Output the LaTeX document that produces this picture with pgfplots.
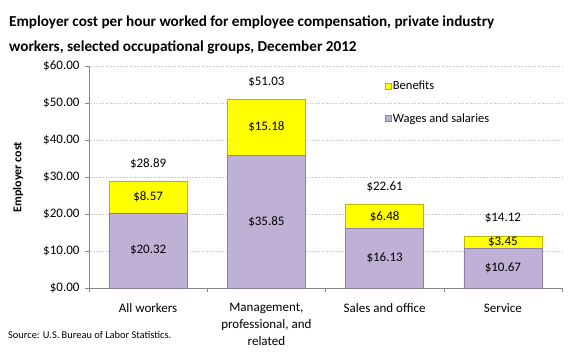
\documentclass[border=0pt]{standalone}
\usepackage{pgfplots}
\pgfplotsset{compat=1.18}
\usepackage{fontspec}
\setmainfont{Carlito}
\definecolor{wage}{HTML}{BFB1D5}
\definecolor{wageedge}{HTML}{8E80A4}
\definecolor{ben}{HTML}{FFFF00}
\definecolor{benedge}{HTML}{B8B800}
\definecolor{axgray}{HTML}{868686}
\definecolor{gridgray}{HTML}{BEBEBE}
\begin{document}
\begin{tikzpicture}[x=1pt,y=1pt]
\useasboundingbox (0,0) rectangle (580,360);
\node[anchor=north west, align=left, font=\fontsize{15.2}{25}\selectfont\bfseries, inner sep=0pt] at (9,344)
 {Employer cost per hour worked for employee compensation, private industry\\workers, selected occupational groups, December 2012};
\node[anchor=west, font=\fontsize{10.4}{12}\selectfont, inner sep=0pt] at (8,25) {Source: U.S. Bureau of Labor Statistics.};
\begin{axis}[
  at={(89pt,72pt)}, anchor=south west,
  width=473pt, height=222pt, scale only axis,
  ybar stacked, bar width=78pt,
  xmin=-0.5, xmax=3.5, ymin=0, ymax=60,
  axis lines=left, axis line style={draw=axgray,-},
  ytick={0,10,20,30,40,50,60},
  yticklabels={\$0.00,\$10.00,\$20.00,\$30.00,\$40.00,\$50.00,\$60.00},
  ymajorgrids, grid style={gridgray, dotted},
  tick align=outside, major tick length=4pt,
  tick style={draw=axgray},
  xtick={-0.5,0.5,1.5,2.5,3.5}, xticklabels={},
  extra x ticks={0,1,2,3},
  extra x tick labels={All workers,{Management,\\professional, and\\related},Sales and office,Service},
  extra x tick style={major tick length=0pt, grid=none,
     tick label style={align=center, anchor=north, yshift=-12pt, font=\fontsize{13}{17}\selectfont}},
  yticklabel style={font=\fontsize{13}{15}\selectfont, xshift=-2pt},
  ylabel={Employer cost},
  every axis y label/.style={at={(rel axis cs:0,0.5)}, rotate=90, anchor=center, yshift=71pt, font=\fontsize{12}{14}\selectfont\bfseries},
  reverse legend,
  legend style={at={(rel axis cs:0.618,0.95)}, anchor=north west, draw=none, fill=none,
     font=\fontsize{12.5}{14}\selectfont, row sep=18pt, legend cell align=left},
  legend image code/.code={\draw[#1] (0pt,-3pt) rectangle (6pt,3pt);},
]
\addplot[fill=wage, draw=wageedge] coordinates {(0,20.32) (1,35.85) (2,16.13) (3,10.67)};
\addlegendentry{Wages and salaries}
\addplot[fill=ben, draw=benedge] coordinates {(0,8.57) (1,15.18) (2,6.48) (3,3.45)};
\addlegendentry{Benefits}
\end{axis}
\begin{axis}[
  at={(89pt,72pt)}, anchor=south west,
  width=473pt, height=222pt, scale only axis,
  xmin=-0.5, xmax=3.5, ymin=0, ymax=60, hide axis,
]
\addplot[draw=none, mark=none, nodes near coords, point meta=explicit symbolic,
  every node near coord/.style={anchor=center, font=\fontsize{13}{15}\selectfont}]
  coordinates {(0,10.16)[\$20.32] (1,17.925)[\$35.85] (2,8.065)[\$16.13] (3,5.335)[\$10.67]};
\addplot[draw=none, mark=none, nodes near coords, point meta=explicit symbolic,
  every node near coord/.style={anchor=center, font=\fontsize{13}{15}\selectfont}]
  coordinates {(0,24.605)[\$8.57] (1,43.44)[\$15.18] (2,19.37)[\$6.48] (3,12.395)[\$3.45]};
\addplot[draw=none, mark=none, nodes near coords, point meta=explicit symbolic,
  every node near coord/.style={anchor=south, yshift=9pt, font=\fontsize{13}{15}\selectfont}]
  coordinates {(0,28.89)[\$28.89] (1,51.03)[\$51.03] (2,22.61)[\$22.61] (3,14.12)[\$14.12]};
\end{axis}
\end{tikzpicture}
\end{document}
